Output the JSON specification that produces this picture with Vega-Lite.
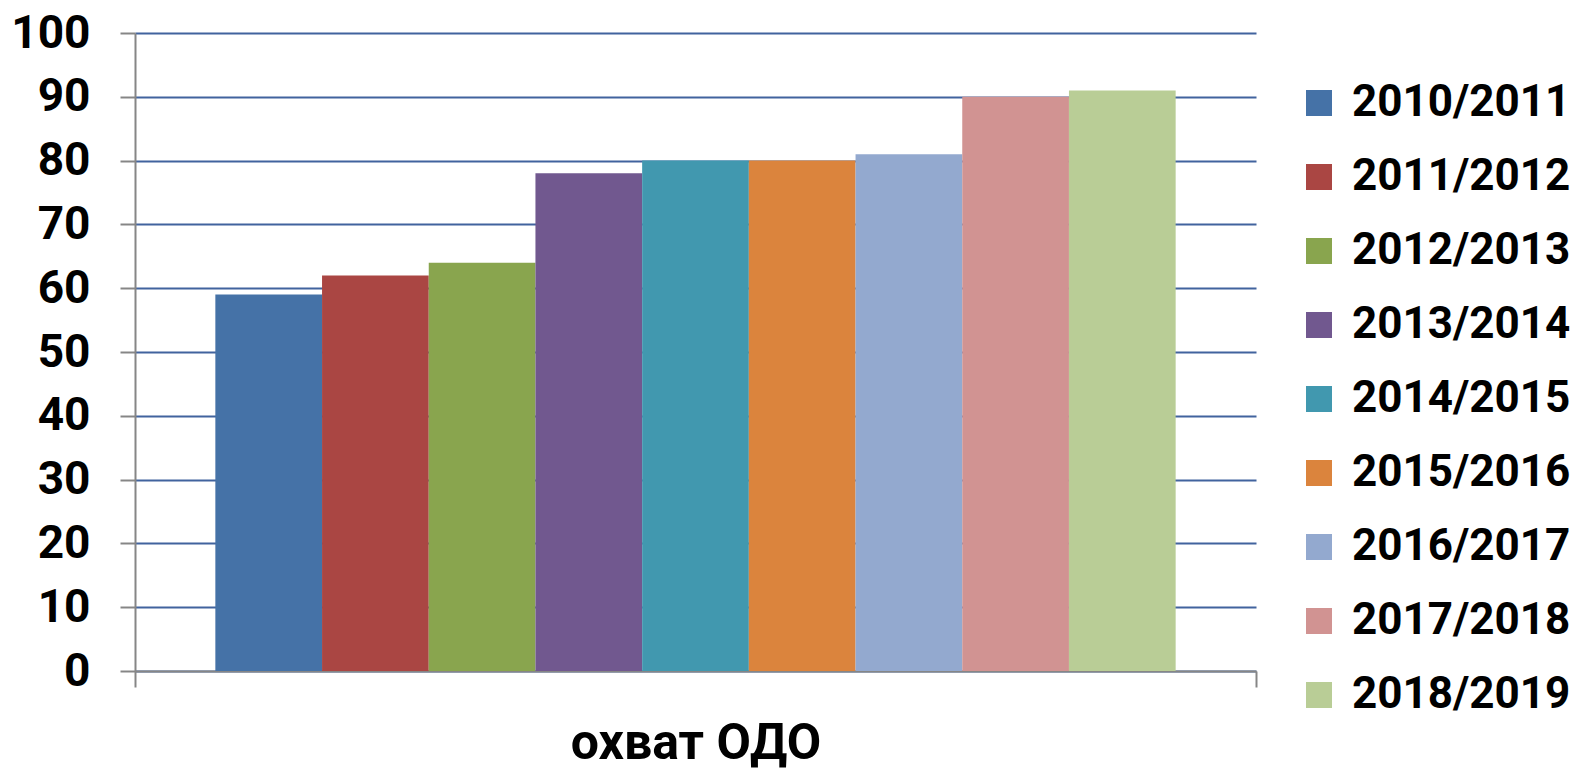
{
  "$schema": "https://vega.github.io/schema/vega-lite/v6.json",
  "width": 1121,
  "height": 638,
  "autosize": "none",
  "padding": {"left": 135, "top": 33, "right": 331, "bottom": 100},
  "background": "white",
  "data": {
    "values": [
      {"category": "охват ОДО", "year": "2010/2011", "value": 59},
      {"category": "охват ОДО", "year": "2011/2012", "value": 62},
      {"category": "охват ОДО", "year": "2012/2013", "value": 64},
      {"category": "охват ОДО", "year": "2013/2014", "value": 78},
      {"category": "охват ОДО", "year": "2014/2015", "value": 80},
      {"category": "охват ОДО", "year": "2015/2016", "value": 80},
      {"category": "охват ОДО", "year": "2016/2017", "value": 81},
      {"category": "охват ОДО", "year": "2017/2018", "value": 90},
      {"category": "охват ОДО", "year": "2018/2019", "value": 91}
    ]
  },
  "mark": {"type": "bar"},
  "encoding": {
    "x": {
      "field": "category",
      "type": "nominal",
      "scale": {"paddingInner": 0, "paddingOuter": 0},
      "axis": {
        "title": "охват ОДО",
        "labels": false,
        "tickBand": "extent",
        "ticks": true,
        "tickSize": 16,
        "tickColor": "#868686",
        "tickWidth": 2,
        "domainColor": "#868686",
        "domainWidth": 2,
        "titleFont": "Roboto",
        "titleFontSize": 50,
        "titleFontWeight": "bold",
        "titleColor": "black",
        "titlePadding": 30
      }
    },
    "xOffset": {
      "field": "year",
      "type": "nominal",
      "scale": {"paddingInner": 0, "paddingOuter": 0.753}
    },
    "y": {
      "field": "value",
      "type": "quantitative",
      "scale": {"domain": [0, 100], "nice": false},
      "axis": {
        "title": null,
        "values": [0, 10, 20, 30, 40, 50, 60, 70, 80, 90, 100],
        "grid": true,
        "gridColor": "#41639E",
        "gridWidth": 2,
        "domainColor": "#868686",
        "domainWidth": 2,
        "tickColor": "#868686",
        "tickWidth": 2,
        "tickSize": 15,
        "labelFont": "Roboto",
        "labelFontSize": 46,
        "labelFontWeight": "bold",
        "labelColor": "black",
        "labelPadding": 30
      }
    },
    "color": {
      "field": "year",
      "type": "nominal",
      "scale": {
        "range": ["#4572A7", "#AA4643", "#89A54E", "#71588F", "#4198AF", "#DB843D", "#93A9CF", "#D19392", "#B9CD96"]
      },
      "legend": {
        "title": null,
        "orient": "none",
        "legendX": 1162,
        "legendY": 48,
        "symbolType": "square",
        "symbolSize": 676,
        "symbolStrokeWidth": 0,
        "symbolOpacity": 1,
        "labelFont": "Roboto",
        "labelFontSize": 44,
        "labelFontWeight": "bold",
        "labelColor": "black",
        "labelOffset": 11,
        "labelLimit": 400,
        "rowPadding": 30,
        "padding": 0
      }
    }
  },
  "config": {"view": {"stroke": null}}
}
